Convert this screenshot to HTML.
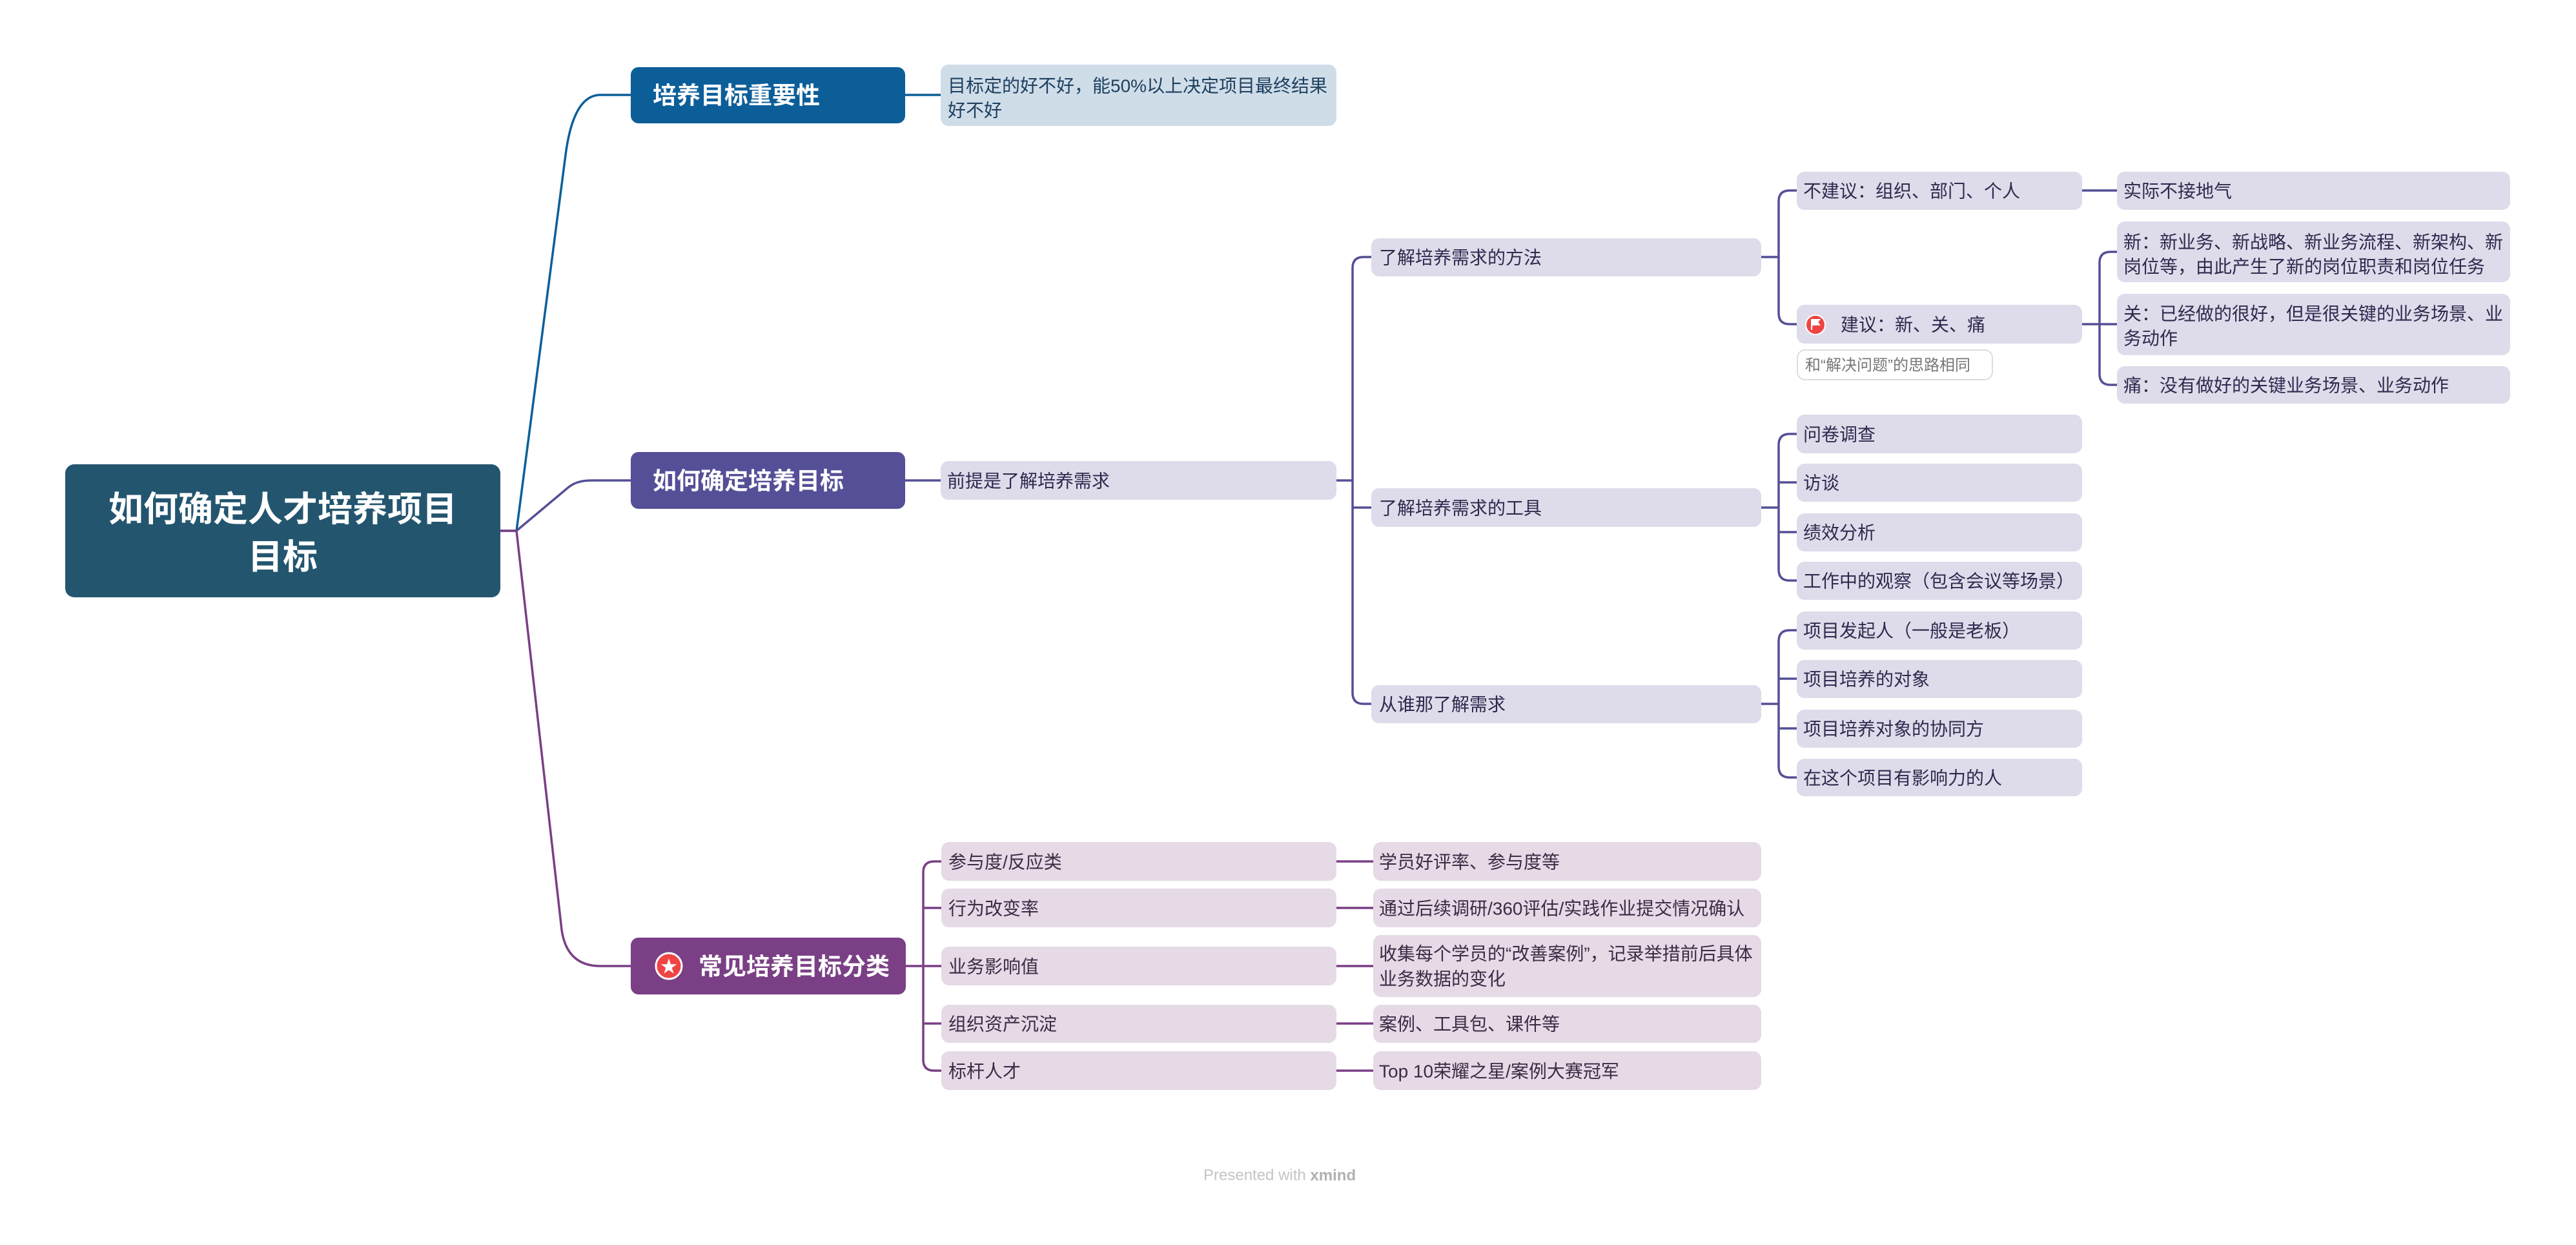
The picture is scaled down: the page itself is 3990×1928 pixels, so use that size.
<!DOCTYPE html>
<html><head><meta charset="utf-8"><style>
html,body{margin:0;padding:0;background:#fff;}
svg{display:block}
text{font-family:"Liberation Sans","Noto Sans CJK SC",sans-serif;}
.n{font-size:28px;fill:#2e2a4f;dominant-baseline:central}
.t{font-size:37px;fill:#fff;font-weight:bold;dominant-baseline:central}
</style></head><body>
<svg width="3990" height="1928" viewBox="0 0 3990 1928" xmlns="http://www.w3.org/2000/svg">
<!-- main connectors -->
<g fill="none" stroke-width="3.5">
<path d="M774,822 H800 L876,240 Q888,147 930,147 H977" stroke="#0c5e99"/>
<path d="M800,822 L880,755 Q893,744 915,744 H977" stroke="#544f96"/>
<path d="M800,822 L870,1440 Q878,1496 930,1496 H977" stroke="#7a3f85"/>
<path d="M774,822 H800" stroke="#7a3f85"/>
<path d="M1402,147 H1457" stroke="#0c5e99"/>
</g>
<g fill="none" stroke="#544f96" stroke-width="3.5">
<path d="M1402,744 H1457"/>
<path d="M2070,744 H2095"/>
<path d="M2124,398 H2112 Q2095,398 2095,415 V1073 Q2095,1090 2112,1090 H2124"/>
<path d="M2095,786 H2124"/>
<path d="M2728,398 H2755"/>
<path d="M2783,295 H2772 Q2755,295 2755,312 V485 Q2755,502 2772,502 H2783"/>
<path d="M2728,786 H2755"/>
<path d="M2783,672 H2772 Q2755,672 2755,689 V882 Q2755,899 2772,899 H2783"/>
<path d="M2755,747 H2783 M2755,824 H2783"/>
<path d="M2728,1090 H2755"/>
<path d="M2783,976 H2772 Q2755,976 2755,993 V1187 Q2755,1204 2772,1204 H2783"/>
<path d="M2755,1051 H2783 M2755,1128 H2783"/>
<path d="M3225,295 H3279"/>
<path d="M3225,502 H3252"/>
<path d="M3279,390 H3269 Q3252,390 3252,407 V579 Q3252,596 3269,596 H3279"/>
<path d="M3252,502 H3279"/>
</g>
<g fill="none" stroke="#7a3f85" stroke-width="3.5">
<path d="M1403,1496 H1430"/>
<path d="M1458,1334 H1447 Q1430,1334 1430,1351 V1641 Q1430,1658 1447,1658 H1458"/>
<path d="M1430,1406 H1458 M1430,1496 H1458 M1430,1585 H1458"/>
<path d="M2070,1334 H2127 M2070,1406 H2127 M2070,1496 H2127 M2070,1585 H2127 M2070,1658 H2127"/>
</g>
<!-- root -->
<rect x="101" y="719" width="674" height="206" rx="14" fill="#23556f"/>
<text x="438" y="789" text-anchor="middle" font-size="54" font-weight="bold" fill="#fff" dominant-baseline="central">如何确定人才培养项目</text>
<text x="438" y="863" text-anchor="middle" font-size="54" font-weight="bold" fill="#fff" dominant-baseline="central">目标</text>
<!-- main topics -->
<rect x="977" y="104" width="425" height="87" rx="12" fill="#0c5e99"/>
<text class="t" x="1011" y="148">培养目标重要性</text>
<rect x="977" y="700" width="425" height="88" rx="12" fill="#544f96"/>
<text class="t" x="1011" y="745">如何确定培养目标</text>
<rect x="977" y="1452" width="426" height="88" rx="12" fill="#7a3f85"/>
<circle cx="1036" cy="1496" r="20" fill="#ef4444" stroke="#fff" stroke-width="3"/>
<text x="1036" y="1497" text-anchor="middle" font-size="26" fill="#fff" dominant-baseline="central">★</text>
<text class="t" x="1082" y="1497">常见培养目标分类</text>
<!-- note -->
<rect x="1457" y="100" width="613" height="95" rx="12" fill="#cfdde9"/>
<text class="n" x="1468" y="133" style="fill:#1d3f5e">目标定的好不好，能50%以上决定项目最终结果</text>
<text class="n" x="1468" y="171" style="fill:#1d3f5e">好不好</text>
<!-- topic2 nodes -->
<g fill="#dedcea">
<rect x="1457" y="714" width="613" height="60" rx="12"/>
<rect x="2124" y="369" width="604" height="59" rx="12"/>
<rect x="2124" y="756" width="604" height="60" rx="12"/>
<rect x="2124" y="1061" width="604" height="59" rx="12"/>
<rect x="2783" y="266" width="442" height="59" rx="12"/>
<rect x="2783" y="472" width="442" height="60" rx="12"/>
<rect x="2783" y="642" width="442" height="60" rx="12"/>
<rect x="2783" y="718" width="442" height="59" rx="12"/>
<rect x="2783" y="795" width="442" height="59" rx="12"/>
<rect x="2783" y="870" width="442" height="59" rx="12"/>
<rect x="2783" y="947" width="442" height="59" rx="12"/>
<rect x="2783" y="1022" width="442" height="59" rx="12"/>
<rect x="2783" y="1099" width="442" height="59" rx="12"/>
<rect x="2783" y="1175" width="442" height="58" rx="12"/>
<rect x="3279" y="266" width="609" height="59" rx="12"/>
<rect x="3279" y="343" width="609" height="94" rx="12"/>
<rect x="3279" y="455" width="609" height="95" rx="12"/>
<rect x="3279" y="567" width="609" height="58" rx="12"/>
</g>
<text class="n" x="1467" y="745">前提是了解培养需求</text>
<text class="n" x="2136" y="399">了解培养需求的方法</text>
<text class="n" x="2136" y="787">了解培养需求的工具</text>
<text class="n" x="2136" y="1091">从谁那了解需求</text>
<text class="n" x="2793" y="296">不建议：组织、部门、个人</text>
<circle cx="2812" cy="503" r="15" fill="#ef4444" stroke="#fff" stroke-width="2"/>
<path d="M2806,511 V495 H2818 L2815,499 L2818,503 H2808" fill="#fff" stroke="#fff" stroke-width="2"/>
<text class="n" x="2851" y="503">建议：新、关、痛</text>
<rect x="2784" y="542" width="302" height="46" rx="12" fill="#fff" stroke="#dddddd" stroke-width="2"/>
<text x="2796" y="566" font-size="24" fill="#777" dominant-baseline="central">和“解决问题”的思路相同</text>
<text class="n" x="2793" y="673">问卷调查</text>
<text class="n" x="2793" y="748">访谈</text>
<text class="n" x="2793" y="825">绩效分析</text>
<text class="n" x="2793" y="900">工作中的观察（包含会议等场景）</text>
<text class="n" x="2793" y="977">项目发起人（一般是老板）</text>
<text class="n" x="2793" y="1052">项目培养的对象</text>
<text class="n" x="2793" y="1129">项目培养对象的协同方</text>
<text class="n" x="2793" y="1205">在这个项目有影响力的人</text>
<text class="n" x="3289" y="296">实际不接地气</text>
<text class="n" x="3289" y="375">新：新业务、新战略、新业务流程、新架构、新</text>
<text class="n" x="3289" y="413">岗位等，由此产生了新的岗位职责和岗位任务</text>
<text class="n" x="3289" y="486">关：已经做的很好，但是很关键的业务场景、业</text>
<text class="n" x="3289" y="524">务动作</text>
<text class="n" x="3289" y="597">痛：没有做好的关键业务场景、业务动作</text>
<!-- topic3 nodes -->
<g fill="#e5dae6">
<rect x="1458" y="1304" width="612" height="60" rx="12"/>
<rect x="1458" y="1376" width="612" height="60" rx="12"/>
<rect x="1458" y="1466" width="612" height="60" rx="12"/>
<rect x="1458" y="1556" width="612" height="59" rx="12"/>
<rect x="1458" y="1628" width="612" height="60" rx="12"/>
<rect x="2127" y="1304" width="601" height="60" rx="12"/>
<rect x="2127" y="1376" width="601" height="60" rx="12"/>
<rect x="2127" y="1448" width="601" height="96" rx="12"/>
<rect x="2127" y="1556" width="601" height="59" rx="12"/>
<rect x="2127" y="1628" width="601" height="60" rx="12"/>
</g>
<g style="fill:#3d2a44">
<text class="n" x="1469" y="1335" style="fill:#3d2a44">参与度/反应类</text>
<text class="n" x="1469" y="1407" style="fill:#3d2a44">行为改变率</text>
<text class="n" x="1469" y="1497" style="fill:#3d2a44">业务影响值</text>
<text class="n" x="1469" y="1586" style="fill:#3d2a44">组织资产沉淀</text>
<text class="n" x="1469" y="1659" style="fill:#3d2a44">标杆人才</text>
<text class="n" x="2136" y="1335" style="fill:#3d2a44">学员好评率、参与度等</text>
<text class="n" x="2136" y="1407" style="fill:#3d2a44">通过后续调研/360评估/实践作业提交情况确认</text>
<text class="n" x="2136" y="1477" style="fill:#3d2a44">收集每个学员的“改善案例”，记录举措前后具体</text>
<text class="n" x="2136" y="1516" style="fill:#3d2a44">业务数据的变化</text>
<text class="n" x="2136" y="1586" style="fill:#3d2a44">案例、工具包、课件等</text>
<text class="n" x="2136" y="1659" style="fill:#3d2a44">Top 10荣耀之星/案例大赛冠军</text>
</g>
<text x="1864" y="1820" font-size="24" fill="#c4c4c4" dominant-baseline="central">Presented with <tspan font-weight="bold" fill="#b0b0b0">xmind</tspan></text>
</svg>
</body></html>
